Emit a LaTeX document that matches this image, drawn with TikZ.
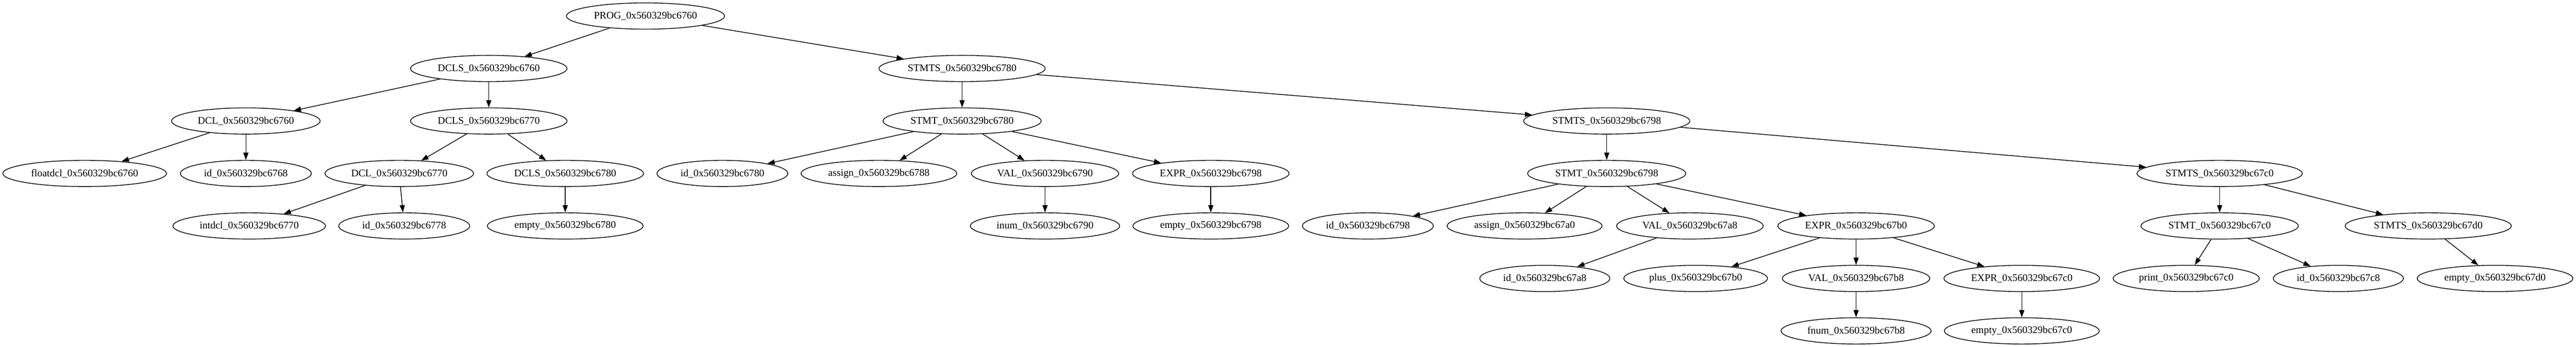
\documentclass[tikz,border=0pt]{standalone}
\usepackage{fontspec}
\setmainfont{Liberation Serif}
\usepackage{tikz}
\usetikzlibrary{shapes.geometric,positioning,arrows.meta}

\tikzset{
  ast/.style={ellipse,draw,minimum height=36pt,inner xsep=6pt,inner ysep=2pt,
    font=\fontsize{14}{16}\selectfont},
}

\begin{document}
\begin{tikzpicture}[>={Triangle[length=10pt,width=7pt]},line width=1pt,node distance=72pt,on grid]
    \useasboundingbox (0,0) rectangle (3537pt,476pt);
    \node[ast] (PROG_6760) at (886.3pt,454pt) {PROG\_0x560329bc6760};
    \node[ast] (DCLS_6760) [below left=72pt and 215.2pt of PROG_6760] {DCLS\_0x560329bc6760};
    \node[ast] (STMTS_6780) [below right=72pt and 434.7pt of PROG_6760] {STMTS\_0x560329bc6780};
    \node[ast] (DCL_6760) [below left=72pt and 333.5pt of DCLS_6760] {DCL\_0x560329bc6760};
    \node[ast] (DCLS_6770) [below=of DCLS_6760] {DCLS\_0x560329bc6770};
    \node[ast] (floatdcl_6760) [below left=72pt and 221.4pt of DCL_6760] {floatdcl\_0x560329bc6760};
    \node[ast] (id_6768) [below=of DCL_6760] {id\_0x560329bc6768};
    \node[ast] (DCL_6770) [below left=72pt and 122.9pt of DCLS_6770] {DCL\_0x560329bc6770};
    \node[ast] (DCLS_6780) [below right=72pt and 105pt of DCLS_6770] {DCLS\_0x560329bc6780};
    \node[ast] (intdcl_6770) [below left=72pt and 206pt of DCL_6770] {intdcl\_0x560329bc6770};
    \node[ast] (id_6778) [below right=72pt and 6.8pt of DCL_6770] {id\_0x560329bc6778};
    \node[ast] (empty_6780) [below=of DCLS_6780] {empty\_0x560329bc6780};
    \node[ast] (STMT_6780) [below=of STMTS_6780] {STMT\_0x560329bc6780};
    \node[ast] (STMTS_6798) [below right=72pt and 885.1pt of STMTS_6780] {STMTS\_0x560329bc6798};
    \node[ast] (id_6780) [below left=72pt and 329.1pt of STMT_6780] {id\_0x560329bc6780};
    \node[ast] (assign_6788) [below left=72pt and 114.2pt of STMT_6780] {assign\_0x560329bc6788};
    \node[ast] (VAL_6790) [below right=72pt and 113.9pt of STMT_6780] {VAL\_0x560329bc6790};
    \node[ast] (EXPR_6798) [below right=72pt and 341.5pt of STMT_6780] {EXPR\_0x560329bc6798};
    \node[ast] (inum_6790) [below=of VAL_6790] {inum\_0x560329bc6790};
    \node[ast] (empty_6798) [below=of EXPR_6798] {empty\_0x560329bc6798};
    \node[ast] (STMT_6798) [below=of STMTS_6798] {STMT\_0x560329bc6798};
    \node[ast] (STMTS_67c0) [below right=72pt and 841.6pt of STMTS_6798] {STMTS\_0x560329bc67c0};
    \node[ast] (id_6798) [below left=72pt and 327.9pt of STMT_6798] {id\_0x560329bc6798};
    \node[ast] (assign_67a0) [below left=72pt and 112.8pt of STMT_6798] {assign\_0x560329bc67a0};
    \node[ast] (VAL_67a8) [below right=72pt and 114.2pt of STMT_6798] {VAL\_0x560329bc67a8};
    \node[ast] (EXPR_67b0) [below right=72pt and 342.4pt of STMT_6798] {EXPR\_0x560329bc67b0};
    \node[ast] (id_67a8) [below left=72pt and 199.2pt of VAL_67a8] {id\_0x560329bc67a8};
    \node[ast] (plus_67b0) [below left=72pt and 220.3pt of EXPR_67b0] {plus\_0x560329bc67b0};
    \node[ast] (VAL_67b8) [below=of EXPR_67b0] {VAL\_0x560329bc67b8};
    \node[ast] (EXPR_67c0) [below right=72pt and 227.5pt of EXPR_67b0] {EXPR\_0x560329bc67c0};
    \node[ast] (fnum_67b8) [below=of VAL_67b8] {fnum\_0x560329bc67b8};
    \node[ast] (empty_67c0) [below=of EXPR_67c0] {empty\_0x560329bc67c0};
    \node[ast] (STMT_67c0) [below=of STMTS_67c0] {STMT\_0x560329bc67c0};
    \node[ast] (STMTS_67d0) [below right=72pt and 286.4pt of STMTS_67c0] {STMTS\_0x560329bc67d0};
    \node[ast] (print_67c0) [below left=72pt and 45.9pt of STMT_67c0] {print\_0x560329bc67c0};
    \node[ast] (id_67c8) [below right=72pt and 162.9pt of STMT_67c0] {id\_0x560329bc67c8};
    \node[ast] (empty_67d0) [below right=72pt and 91.7pt of STMTS_67d0] {empty\_0x560329bc67d0};
    \path[->]
    (PROG_6760) edge (DCLS_6760)
          edge (STMTS_6780)
    (DCLS_6760) edge (DCL_6760)
          edge (DCLS_6770)
    (DCL_6760) edge (floatdcl_6760)
          edge (id_6768)
    (DCLS_6770) edge (DCL_6770)
          edge (DCLS_6780)
    (DCL_6770) edge (intdcl_6770)
          edge (id_6778)
    (DCLS_6780) edge (empty_6780)
    (STMTS_6780) edge (STMT_6780)
          edge (STMTS_6798)
    (STMT_6780) edge (id_6780)
          edge (assign_6788)
          edge (VAL_6790)
          edge (EXPR_6798)
    (VAL_6790) edge (inum_6790)
    (EXPR_6798) edge (empty_6798)
    (STMTS_6798) edge (STMT_6798)
          edge (STMTS_67c0)
    (STMT_6798) edge (id_6798)
          edge (assign_67a0)
          edge (VAL_67a8)
          edge (EXPR_67b0)
    (VAL_67a8) edge (id_67a8)
    (EXPR_67b0) edge (plus_67b0)
          edge (VAL_67b8)
          edge (EXPR_67c0)
    (VAL_67b8) edge (fnum_67b8)
    (EXPR_67c0) edge (empty_67c0)
    (STMTS_67c0) edge (STMT_67c0)
          edge (STMTS_67d0)
    (STMT_67c0) edge (print_67c0)
          edge (id_67c8)
    (STMTS_67d0) edge (empty_67d0)
          ;
  \end{tikzpicture}
\end{document}
